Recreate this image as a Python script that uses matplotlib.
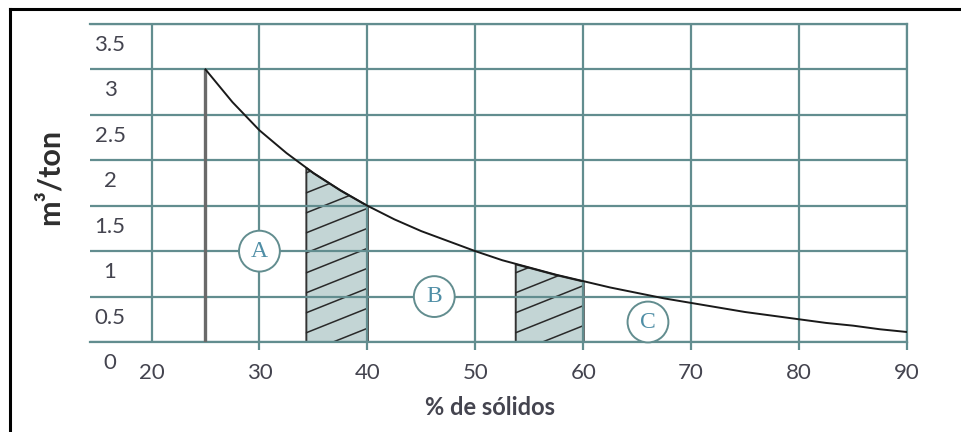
import numpy as np
import matplotlib.pyplot as plt
from matplotlib.transforms import ScaledTranslation
from matplotlib.lines import Line2D

# curve (% solids -> m3/ton)
solids = [25, 27.5, 30, 32.5, 35, 37.5, 40, 42.5, 45, 47.5, 50, 52.5, 55, 57.5,
          60, 62.5, 65, 67.5, 70, 72.5, 75, 77.5, 80, 82.5, 85, 87.5, 90]
m3_ton = [3.0, 2.64, 2.33, 2.08, 1.86, 1.67, 1.5, 1.35, 1.22, 1.11, 1.0, 0.90, 0.82, 0.74,
          0.67, 0.60, 0.54, 0.48, 0.43, 0.38, 0.33, 0.29, 0.25, 0.21, 0.18, 0.14, 0.11]

# hatched bands
band1_x = [34.3, 35, 37.5, 40]
band1_y = [1.92, 1.86, 1.67, 1.5]
band2_x = [53.7, 55, 57.5, 60]
band2_y = [0.86, 0.82, 0.74, 0.67]

# zone markers
zone_names = ["A", "B", "C"]
zone_x = [30, 46.2, 66]
zone_y = [1.0, 0.5, 0.22]

x_ticks = [20, 30, 40, 50, 60, 70, 80, 90]
y_ticks = [0, 0.5, 1, 1.5, 2, 2.5, 3, 3.5]
y_labels = ["0", "0.5", "1", "1.5", "2", "2.5", "3", "3.5"]

grid_c = "#628d8f"
text_c = "#44444f"
fill_c = "#c3d5d5"

plt.rcParams['font.family'] = ['Lato', 'DejaVu Sans']

fig = plt.figure(figsize=(9.62, 4.32), dpi=100)
ax = fig.add_axes([90/962, 1-342/432, (907-90)/962, (342-24)/432])
ax.set_xlim(14.3, 90)
ax.set_ylim(0, 3.5)

ax.set_axisbelow(False)
ax.grid(True, color=grid_c, lw=1.6, zorder=2.5)
for s in ["top", "right", "bottom"]:
    ax.spines[s].set_color(grid_c)
    ax.spines[s].set_linewidth(1.6)
ax.spines["left"].set_visible(False)

ax.set_xticks(x_ticks)
ax.tick_params(axis='x', length=6, width=1.6, color=grid_c, pad=9,
               labelsize=16, labelcolor=text_c)
ax.xaxis.get_major_ticks()[0].tick1line.set_visible(False)

ax.set_yticks(y_ticks, labels=y_labels)
ax.tick_params(axis='y', length=0, pad=0, labelsize=16, labelcolor=text_c)
off = ScaledTranslation(0.20, -0.19, fig.dpi_scale_trans)
for lab in ax.get_yticklabels():
    lab.set_horizontalalignment('center')
    lab.set_transform(lab.get_transform() + off)

# bands with custom shallow hatching
slope = 0.0475
gap = 0.22
for bx, by in [(band1_x, band1_y), (band2_x, band2_y)]:
    poly = ax.fill_between(bx, 0, by, facecolor=fill_c, edgecolor="#333333",
                           linewidth=1.4, zorder=1)
    path = poly.get_paths()[0]
    hx = np.array([bx[0], bx[-1]])
    for c in np.arange(-1.0, 2.5, gap):
        ln, = ax.plot(hx, c + slope * (hx - bx[0]), color="#2a2a2a", lw=1.1, zorder=1.5)
        ln.set_clip_path(path, ax.transData)

ax.vlines(solids[0], 0, m3_ton[0], color="#6a6a6a", lw=2.4, zorder=3)
ax.plot(solids, m3_ton, color="#1a1a1a", lw=1.4, zorder=3)

for name, zx, zy in zip(zone_names, zone_x, zone_y):
    ax.text(zx, zy, name, ha='center', va='center', fontsize=17,
            family='Liberation Serif', color="#4f8ea6", zorder=5,
            bbox=dict(boxstyle='circle,pad=0.42', fc='white', ec=grid_c, lw=1.4))

ax.set_xlabel("% de sólidos", fontsize=17, fontweight='bold', color=text_c, va='top')
ax.xaxis.set_label_coords(0.49, -0.17)
ax.set_ylabel("m³/ton", fontsize=22, fontweight='bold', color="#2e2e2e")
ax.yaxis.set_label_coords(-0.032, 0.52)

# cropped frame from the source page
fig.add_artist(Line2D([10/962, 1], [1-9/432, 1-9/432], color='black', lw=2.2))
fig.add_artist(Line2D([10/962, 10/962], [0, 1-9/432], color='black', lw=2.2))

fig.savefig("out.png", dpi=100)
